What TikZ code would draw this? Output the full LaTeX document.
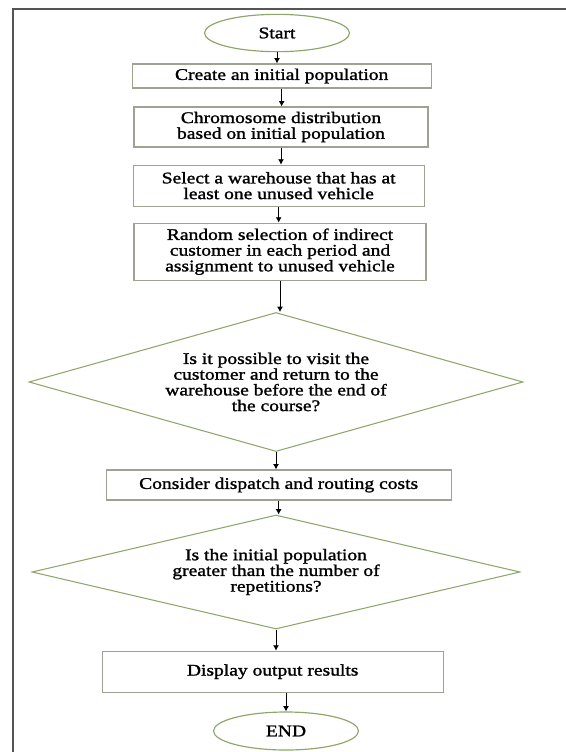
\documentclass[tikz,border=0pt]{standalone}
\usepackage{fontspec}
\setmainfont{Liberation Serif}[FakeStretch=1.2,FakeBold=1.4]
\usepackage{tikz}
\usetikzlibrary{arrows.meta,positioning,shapes.geometric}
\definecolor{boxgray}{HTML}{9FA292}
\definecolor{leafgreen}{HTML}{8FA66A}
\definecolor{framegray}{HTML}{555555}

\begin{document}
\begin{tikzpicture}[
    txt/.style={font=\fontsize{13.9}{13.4}\selectfont, align=center, inner sep=2pt},
    box/.style={txt, draw=boxgray, line width=1pt},
    terminal/.style={txt, ellipse, draw=leafgreen, line width=1pt, minimum width=4.35cm, minimum height=1.12cm},
    decision/.style={txt, diamond, draw=leafgreen, line width=0.9pt, inner sep=0pt},
    arrow/.style={-{Latex[length=1.6mm,width=1.8mm]}, line width=0.8pt}
  ]
    \useasboundingbox (0,0) rectangle (16.98,-22.56);
    \draw[framegray, line width=2pt] (0.39,-22.56) -- (0.39,-0.27) -- (16.98,-0.27);
    \node[terminal] (start) at (8.31,-0.99) {Start};
    \node[box, minimum width=8.97cm, minimum height=0.72cm] (create) at (8.45,-2.28) {Create an initial population};
    \node[box, minimum width=8.82cm, minimum height=1.2cm] (chromo) at (8.43,-3.81) {Chromosome distribution\\based on initial population};
    \node[box, minimum width=8.73cm, minimum height=1.23cm] (select) at (8.36,-5.57) {Select a warehouse that has at\\least one unused vehicle};
    \node[box, minimum width=8.76cm, minimum height=1.71cm] (assign) at (8.4,-7.55) {Random selection of indirect\\customer in each period and\\assignment to unused vehicle};
    \node[decision, minimum width=14.82cm, minimum height=4.17cm, shape aspect=3.55] (visit) at (8.28,-11.46) {Is it possible to visit the\\customer and return to the\\warehouse before the end of\\the course?};
    \node[box, minimum width=10.35cm, minimum height=0.9cm] (cost) at (8.36,-14.55) {Consider dispatch and routing costs};
    \node[decision, minimum width=14.64cm, minimum height=3.42cm, shape aspect=4.28] (repeat) at (8.28,-17.16) {Is the initial population\\greater than the number of\\repetitions?};
    \node[box, minimum width=10.23cm, minimum height=1.23cm] (output) at (8.18,-20.15) {Display output results};
    \node[terminal, minimum height=1.14cm] (finish) at (8.58,-21.93) {END};
    \draw[arrow] (start.south) -- (start.south |- create.north);
    \draw[arrow] (create.south) -- (create.south |- chromo.north);
    \draw[arrow] (chromo.south) -- (chromo.south |- select.north);
    \draw[arrow] (select.south) -- (select.south |- assign.north);
    \draw[arrow] (assign.south) -- (assign.south |- visit.north);
    \draw[arrow] (visit.south) -- (visit.south |- cost.north);
    \draw[arrow] (cost.south) -- (cost.south |- repeat.north);
    \draw[arrow] (repeat.south) -- (repeat.south |- output.north);
    \draw[arrow] (finish.north |- output.south) -- (finish.north);
\end{tikzpicture}
\end{document}
